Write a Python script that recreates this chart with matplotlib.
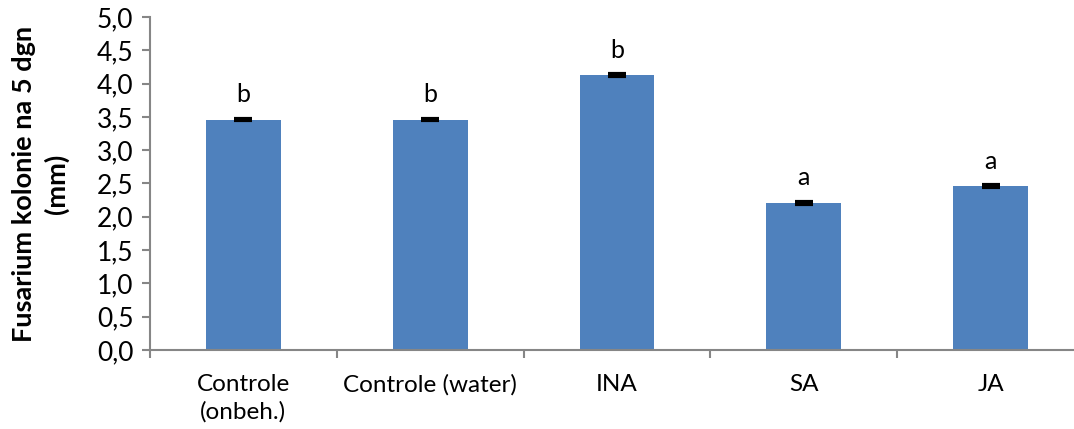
import numpy as np
import matplotlib
matplotlib.use("Agg")
from matplotlib import pyplot as plt
from matplotlib.ticker import FuncFormatter

# data
categories = ["Controle\n(onbeh.)", "Controle (water)", "INA", "SA", "JA"]
values = [3.46, 3.46, 4.13, 2.21, 2.46]
errors = [0.012, 0.012, 0.012, 0.012, 0.012]
letters = ["b", "b", "b", "a", "a"]

plt.rcParams['font.family'] = ['Lato', 'DejaVu Sans']

fig = plt.figure(figsize=(10.74, 4.29), dpi=100)
ax = fig.add_axes([150/1074, 79/429, 934/1074, 333/429])

x = np.arange(len(categories))
ax.bar(x, values, width=0.4, color="#4F81BD", zorder=2)
ax.errorbar(x, values, yerr=errors, fmt="none", ecolor="black",
            elinewidth=1.2, capsize=6.5, capthick=3, zorder=3)

for xi, v, l in zip(x, values, letters):
    ax.text(xi, v + 0.2, l, ha="center", va="bottom", fontsize=18)

ax.set_xlim(-0.5, len(categories) - 0.5)
ax.set_ylim(0, 5.0)
ax.set_yticks(np.arange(0, 5.01, 0.5))
ax.yaxis.set_major_formatter(FuncFormatter(lambda v, p: ("%.1f" % v).replace(".", ",")))

# boundary ticks on x, labels centred
ax.set_xticks(np.arange(-0.5, len(categories), 1.0))
ax.set_xticklabels([])
ax.set_xticks(x, minor=True)
ax.set_xticklabels(categories, minor=True, fontsize=17.5, linespacing=1.35)
ax.tick_params(axis="x", which="minor", length=0, pad=17)
ax.tick_params(axis="x", which="major", length=6, color="#868686", width=1.5)
ax.tick_params(axis="y", length=6, color="#868686", width=1.5, labelsize=19, pad=6)

for s in ["top", "right"]:
    ax.spines[s].set_visible(False)
for s in ["left", "bottom"]:
    ax.spines[s].set_color("#868686")
    ax.spines[s].set_linewidth(1.5)

ax.set_ylabel("Fusarium kolonie na 5 dgn\n(mm)", fontsize=19.5, fontweight="bold",
              labelpad=20, linespacing=1.35)

fig.savefig("out.png", dpi=100)
